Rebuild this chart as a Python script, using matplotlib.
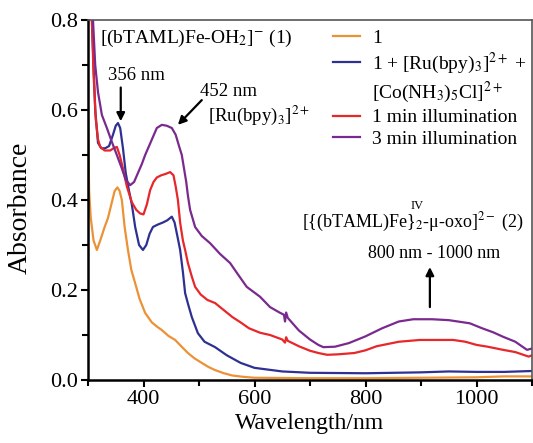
import numpy as np
import matplotlib
matplotlib.use("Agg")
import matplotlib.pyplot as plt
from matplotlib.lines import Line2D
from matplotlib.ticker import MultipleLocator, FormatStrFormatter

plt.rcParams['font.family'] = ['Liberation Serif', 'DejaVu Serif']
plt.rcParams['mathtext.fontset'] = 'stix'

# spectra (nm, absorbance)
wl_1 = [300, 301, 302, 305, 310, 316, 322, 330, 336, 342, 348, 353, 357, 361, 366, 372,
        378, 385, 393, 403, 415, 425, 433, 445, 457, 468, 480, 492, 505, 517, 529, 545,
        560, 580, 600, 700, 800, 900, 1000, 1050, 1100]
abs_1 = [0.58, 0.50, 0.42, 0.36, 0.31, 0.289, 0.31, 0.34, 0.36, 0.39, 0.42, 0.428, 0.42, 0.40, 0.34, 0.289,
         0.245, 0.215, 0.18, 0.149, 0.128, 0.118, 0.111, 0.098, 0.089, 0.075, 0.06, 0.048, 0.038, 0.029, 0.022, 0.015,
         0.010, 0.007, 0.005, 0.004, 0.004, 0.005, 0.006, 0.008, 0.008]

wl_mix = [300, 304, 307, 310, 313, 318, 324, 331, 338, 345, 350, 354, 358, 363, 368, 374,
          379, 385, 392, 399, 405, 411, 417, 425, 435, 443, 451, 456, 461, 466, 471, 475,
          480, 487, 498, 510, 529, 550, 575, 600, 650, 700, 800, 900, 950, 1000, 1050, 1100]
abs_mix = [1.0, 0.88, 0.80, 0.70, 0.60, 0.527, 0.515, 0.515, 0.52, 0.545, 0.565, 0.571, 0.56, 0.515, 0.46, 0.42,
           0.39, 0.34, 0.30, 0.289, 0.30, 0.325, 0.34, 0.345, 0.35, 0.355, 0.363, 0.35, 0.32, 0.289, 0.24, 0.193,
           0.17, 0.14, 0.104, 0.085, 0.073, 0.055, 0.038, 0.027, 0.019, 0.016, 0.015, 0.017, 0.019, 0.018, 0.018, 0.02]

wl_1min = [300, 304, 307, 310, 314, 318, 322, 330, 340, 346, 352, 357, 363, 370, 379, 387,
           394, 400, 406, 412, 418, 424, 432, 440, 448, 454, 458, 462, 466, 471, 475, 480,
           487, 493, 503, 515, 529, 545, 560, 575, 590, 610, 628, 650, 655, 657, 660, 680,
           700, 715, 731, 750, 780, 800, 820, 840, 860, 898, 930, 958, 980, 1000, 1020, 1048,
           1070, 1094, 1100]
abs_1min = [1.0, 0.88, 0.80, 0.68, 0.58, 0.535, 0.518, 0.51, 0.51, 0.515, 0.518, 0.50, 0.47, 0.43, 0.395, 0.378,
            0.37, 0.368, 0.39, 0.422, 0.44, 0.45, 0.455, 0.458, 0.462, 0.455, 0.43, 0.40, 0.35, 0.31, 0.289, 0.26,
            0.23, 0.207, 0.19, 0.178, 0.171, 0.155, 0.14, 0.128, 0.115, 0.105, 0.1, 0.09, 0.083, 0.095, 0.087, 0.075,
            0.065, 0.06, 0.056, 0.057, 0.06, 0.066, 0.075, 0.08, 0.085, 0.089, 0.089, 0.089, 0.085, 0.078, 0.074, 0.067,
            0.062, 0.052, 0.055]

wl_3min = [300, 305, 309, 313, 318, 325, 334, 343, 352, 361, 368, 376, 383, 390, 397, 403,
           410, 417, 424, 433, 442, 451, 458, 464, 469, 473, 477, 480, 484, 493, 505, 520,
           538, 556, 570, 586, 610, 628, 645, 653, 655, 657, 660, 680, 700, 715, 724, 745,
           770, 800, 830, 860, 886, 920, 950, 988, 1010, 1030, 1048, 1070, 1091, 1100]
abs_3min = [1.0, 0.88, 0.80, 0.70, 0.64, 0.589, 0.56, 0.529, 0.50, 0.47, 0.445, 0.433, 0.44, 0.46, 0.48, 0.50,
            0.52, 0.54, 0.56, 0.567, 0.565, 0.56, 0.545, 0.52, 0.50, 0.47, 0.44, 0.41, 0.378, 0.34, 0.32, 0.304,
            0.28, 0.26, 0.235, 0.207, 0.185, 0.162, 0.15, 0.145, 0.13, 0.15, 0.138, 0.11, 0.09, 0.078, 0.073, 0.074,
            0.082, 0.097, 0.115, 0.13, 0.135, 0.135, 0.133, 0.126, 0.115, 0.106, 0.096, 0.085, 0.067, 0.07]

c_1 = '#ec9236'
c_mix = '#2e3192'
c_1min = '#e8272b'
c_3min = '#7a2a8e'

fig = plt.figure(figsize=(5.33, 4.43), dpi=100)
ax = fig.add_axes([88/533, 63/443, 444/533, 360/443])

lw = 1.6
l1, = ax.plot(wl_1, abs_1, color=c_1, lw=lw)
l2, = ax.plot(wl_mix, abs_mix, color=c_mix, lw=lw)
l3, = ax.plot(wl_1min, abs_1min, color=c_1min, lw=lw)
l4, = ax.plot(wl_3min, abs_3min, color=c_3min, lw=lw)

ax.set_xlim(300, 1100)
ax.set_ylim(0, 0.8)
ax.xaxis.set_minor_locator(MultipleLocator(100))
ax.yaxis.set_major_locator(MultipleLocator(0.2))
ax.yaxis.set_minor_locator(MultipleLocator(0.1))
ax.yaxis.set_major_formatter(FormatStrFormatter('%.1f'))
ax.set_xticks([400, 600, 800, 1000])
ax.tick_params(which='major', direction='out', length=5, width=1.5, labelsize=16, pad=2)
ax.tick_params(which='minor', direction='out', length=4, width=1.5)

for s in ['left', 'bottom']:
    ax.spines[s].set_linewidth(1.8)
for s in ['top', 'right']:
    ax.spines[s].set_linewidth(1.2)
    ax.spines[s].set_color('#555555')

ax.set_xlabel('Wavelength/nm', fontsize=17, labelpad=3)
ax.set_ylabel('Absorbance', fontsize=20, va='center')
ax.yaxis.set_label_coords(-0.153, 0.478)

fs = 13.5
ax.text(321, 0.749, '[(bTAML)Fe-OH$_2$]$^{-}$ (1)', fontsize=14, va='baseline')
ax.text(336, 0.667, '356 nm', fontsize=fs, va='baseline')
ax.text(502, 0.631, '452 nm', fontsize=fs, va='baseline')
ax.text(516, 0.576, '[Ru(bpy)$_3$]$^{2+}$', fontsize=fs, va='baseline')
ax.text(686, 0.340, '[{(bTAML)Fe}$_2$-μ-oxo]$^{2-}$ (2)', fontsize=13, va='baseline')
ax.text(882, 0.380, 'IV', fontsize=9, va='baseline')
ax.text(805, 0.271, '800 nm - 1000 nm', fontsize=13, va='baseline')

ap = dict(arrowstyle='-|>', lw=1.6, color='k', mutation_scale=12, shrinkA=0, shrinkB=0)
ax.annotate('', xy=(359, 0.575), xytext=(359, 0.65), arrowprops=ap)
ax.annotate('', xy=(462, 0.567), xytext=(505, 0.622), arrowprops=ap)
ax.annotate('', xy=(916, 0.251), xytext=(916, 0.162), arrowprops=ap)

blank = Line2D([], [], color='none')
ax.legend([l1, l2, blank, l3, l4],
          ['1', '1 + [Ru(bpy)$_3$]$^{2+}$ +', '[Co(NH$_3$)$_5$Cl]$^{2+}$',
           '1 min illumination', '3 min illumination'],
          loc='upper left', bbox_to_anchor=(0.552, 0.975), frameon=False,
          fontsize=14, borderpad=0, borderaxespad=0, handlelength=1.4,
          handletextpad=0.6, labelspacing=0.2)

fig.savefig('out.png', dpi=100)
